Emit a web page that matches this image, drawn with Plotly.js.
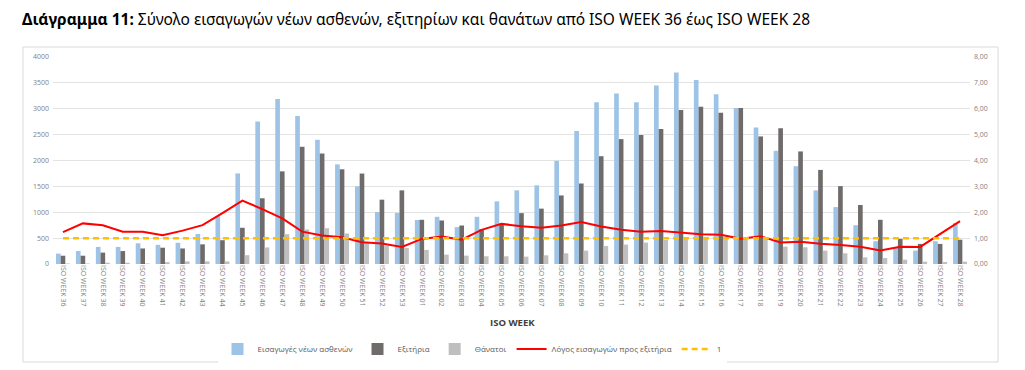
<!DOCTYPE html>
<html>
<head>
<meta charset="utf-8">
<script src="https://cdn.plot.ly/plotly-3.0.1.min.js"></script>
<style>
  html, body { margin: 0; padding: 0; background: #ffffff; }
  #chart { width: 1025px; height: 370px; }
</style>
</head>
<body>
<div id="chart"></div>
<script>
const weeks = ["ISO WEEK 36","ISO WEEK 37","ISO WEEK 38","ISO WEEK 39","ISO WEEK 40","ISO WEEK 41","ISO WEEK 42","ISO WEEK 43","ISO WEEK 44","ISO WEEK 45","ISO WEEK 46","ISO WEEK 47","ISO WEEK 48","ISO WEEK 49","ISO WEEK 50","ISO WEEK 51","ISO WEEK 52","ISO WEEK 53","ISO WEEK 01","ISO WEEK 02","ISO WEEK 03","ISO WEEK 04","ISO WEEK 05","ISO WEEK 06","ISO WEEK 07","ISO WEEK 08","ISO WEEK 09","ISO WEEK 10","ISO WEEK 11","ISO WEEK 12","ISO WEEK 13","ISO WEEK 14","ISO WEEK 15","ISO WEEK 16","ISO WEEK 17","ISO WEEK 18","ISO WEEK 19","ISO WEEK 20","ISO WEEK 21","ISO WEEK 22","ISO WEEK 23","ISO WEEK 24","ISO WEEK 25","ISO WEEK 26","ISO WEEK 27","ISO WEEK 28"];

const admissions = [200,250,330,330,400,370,410,580,925,1750,2755,3190,2860,2400,1925,1500,1005,985,850,912,712,912,1210,1423,1520,1993,2572,3125,3297,3125,3449,3702,3556,3281,3015,2640,2187,1890,1423,1100,750,440,320,259,440,790];
const discharges = [160,160,220,250,300,315,300,380,460,700,1270,1790,2265,2135,1830,1748,1243,1423,854,841,744,673,780,983,1070,1325,1556,2083,2413,2491,2607,2977,3041,2925,3015,2465,2621,2175,1818,1505,1140,854,485,388,388,470];
const deaths = [10,10,25,25,10,35,50,50,50,170,320,575,666,692,589,420,356,310,272,181,162,149,149,142,168,207,259,349,375,414,466,505,518,518,485,485,336,323,259,207,129,116,84,45,39,45];
const ratio = [1.23,1.57,1.50,1.25,1.25,1.11,1.29,1.50,1.97,2.45,2.12,1.76,1.25,1.10,1.03,0.84,0.79,0.66,0.97,1.06,0.94,1.32,1.55,1.46,1.40,1.49,1.62,1.45,1.32,1.25,1.28,1.22,1.15,1.13,0.98,1.07,0.83,0.86,0.78,0.73,0.67,0.52,0.67,0.66,1.15,1.66];
const one = [1,1,1,1,1,1,1,1,1,1,1,1,1,1,1,1,1,1,1,1,1,1,1,1,1,1,1,1,1,1,1,1,1,1,1,1,1,1,1,1,1,1,1,1,1,1];
const leftTicks = [0,500,1000,1500,2000,2500,3000,3500,4000];
const rightTicks = [0,1,2,3,4,5,6,7,8];

const seriesNames = ["Εισαγωγές νέων ασθενών","Εξιτήρια","Θάνατοι","Λόγος εισαγωγών προς εξιτήρια","1"];

const chartFont = "Open Sans, Liberation Sans, sans-serif";
const W = 1025, H = 370;
const plotL = 53, plotR = 970, plotT = 57, plotB = 264;
const px = (x) => (x - plotL) / (plotR - plotL);
const py = (y) => (plotB - y) / (plotB - plotT);

const traces = [
  {type:'bar', name:seriesNames[0], x:weeks, y:admissions, marker:{color:'#9dc3e6'}, yaxis:'y'},
  {type:'bar', name:seriesNames[1], x:weeks, y:discharges, marker:{color:'#6f6b6b'}, yaxis:'y'},
  {type:'bar', name:seriesNames[2], x:weeks, y:deaths, marker:{color:'#bfbfbf'}, yaxis:'y'},
  {type:'scatter', mode:'lines', name:seriesNames[3], x:weeks, y:ratio, yaxis:'y2', line:{color:'#ff0000', width:2}},
  {type:'scatter', mode:'lines', name:seriesNames[4], x:weeks, y:one, yaxis:'y2', line:{color:'#ffc000', width:2.5, dash:'6px,4px'}}
];

const layout = {
  width: W, height: H,
  margin: {l: plotL, r: W - plotR, t: plotT, b: H - plotB, autoexpand: false},
  paper_bgcolor: '#ffffff', plot_bgcolor: '#ffffff',
  separators: ',.',
  font: {family: chartFont, size: 7, color: '#595959'},
  title: {
    text: '<b>Διάγραμμα 11:</b> Σύνολο εισαγωγών νέων ασθενών, εξιτηρίων και θανάτων από ISO WEEK 36 έως ISO WEEK 28',
    font: {family: 'Noto Sans, Open Sans, sans-serif', size: 15.5, color: '#000000'},
    xref: 'container', yref: 'container', x: 22 / W, xanchor: 'left', y: 1 - 20 / H, yanchor: 'middle'
  },
  barmode: 'group', bargap: 0.3, bargroupgap: 0,
  showlegend: true,
  legend: {orientation: 'h', x: px(472), xanchor: 'center', y: py(349), yanchor: 'middle',
           font: {family: chartFont, size: 8, color: '#595959'}, itemwidth: 30, tracegroupgap: 0,
           traceorder: 'normal'},
  xaxis: {
    type: 'category', tickangle: 90, tickfont: {size: 7, color: '#7f7f7f'},
    showgrid: false, zeroline: false, showline: false, ticks: '', automargin: false
  },
  yaxis: {
    range: [0, 4000], tickvals: leftTicks, tickfont: {size: 7, color: '#7f7f7f'},
    showgrid: true, gridcolor: '#e3e3e3', gridwidth: 1, zeroline: false, showline: false, automargin: false,
    ticklabelstandoff: 3
  },
  yaxis2: {
    range: [0, 8], tickvals: rightTicks, tickformat: '.2f', overlaying: 'y', side: 'right',
    tickfont: {size: 7, color: '#7f7f7f'}, showgrid: false, zeroline: false, showline: false, automargin: false,
    ticklabelstandoff: 3
  },
  annotations: [
    {text: '<b>ISO WEEK</b>', xref: 'paper', yref: 'paper', x: px(512), y: py(322), showarrow: false,
     font: {family: chartFont, size: 9.5, color: '#404040'}, xanchor: 'center', yanchor: 'middle'}
  ],
  shapes: [
    {type: 'rect', xref: 'paper', yref: 'paper', x0: px(23), x1: px(998), y0: py(362), y1: py(47),
     line: {color: '#d9d9d9', width: 1}, fillcolor: 'rgba(0,0,0,0)', layer: 'below'}
  ]
};

Plotly.newPlot('chart', traces, layout, {displayModeBar: false, staticPlot: true});
</script>
</body>
</html>
